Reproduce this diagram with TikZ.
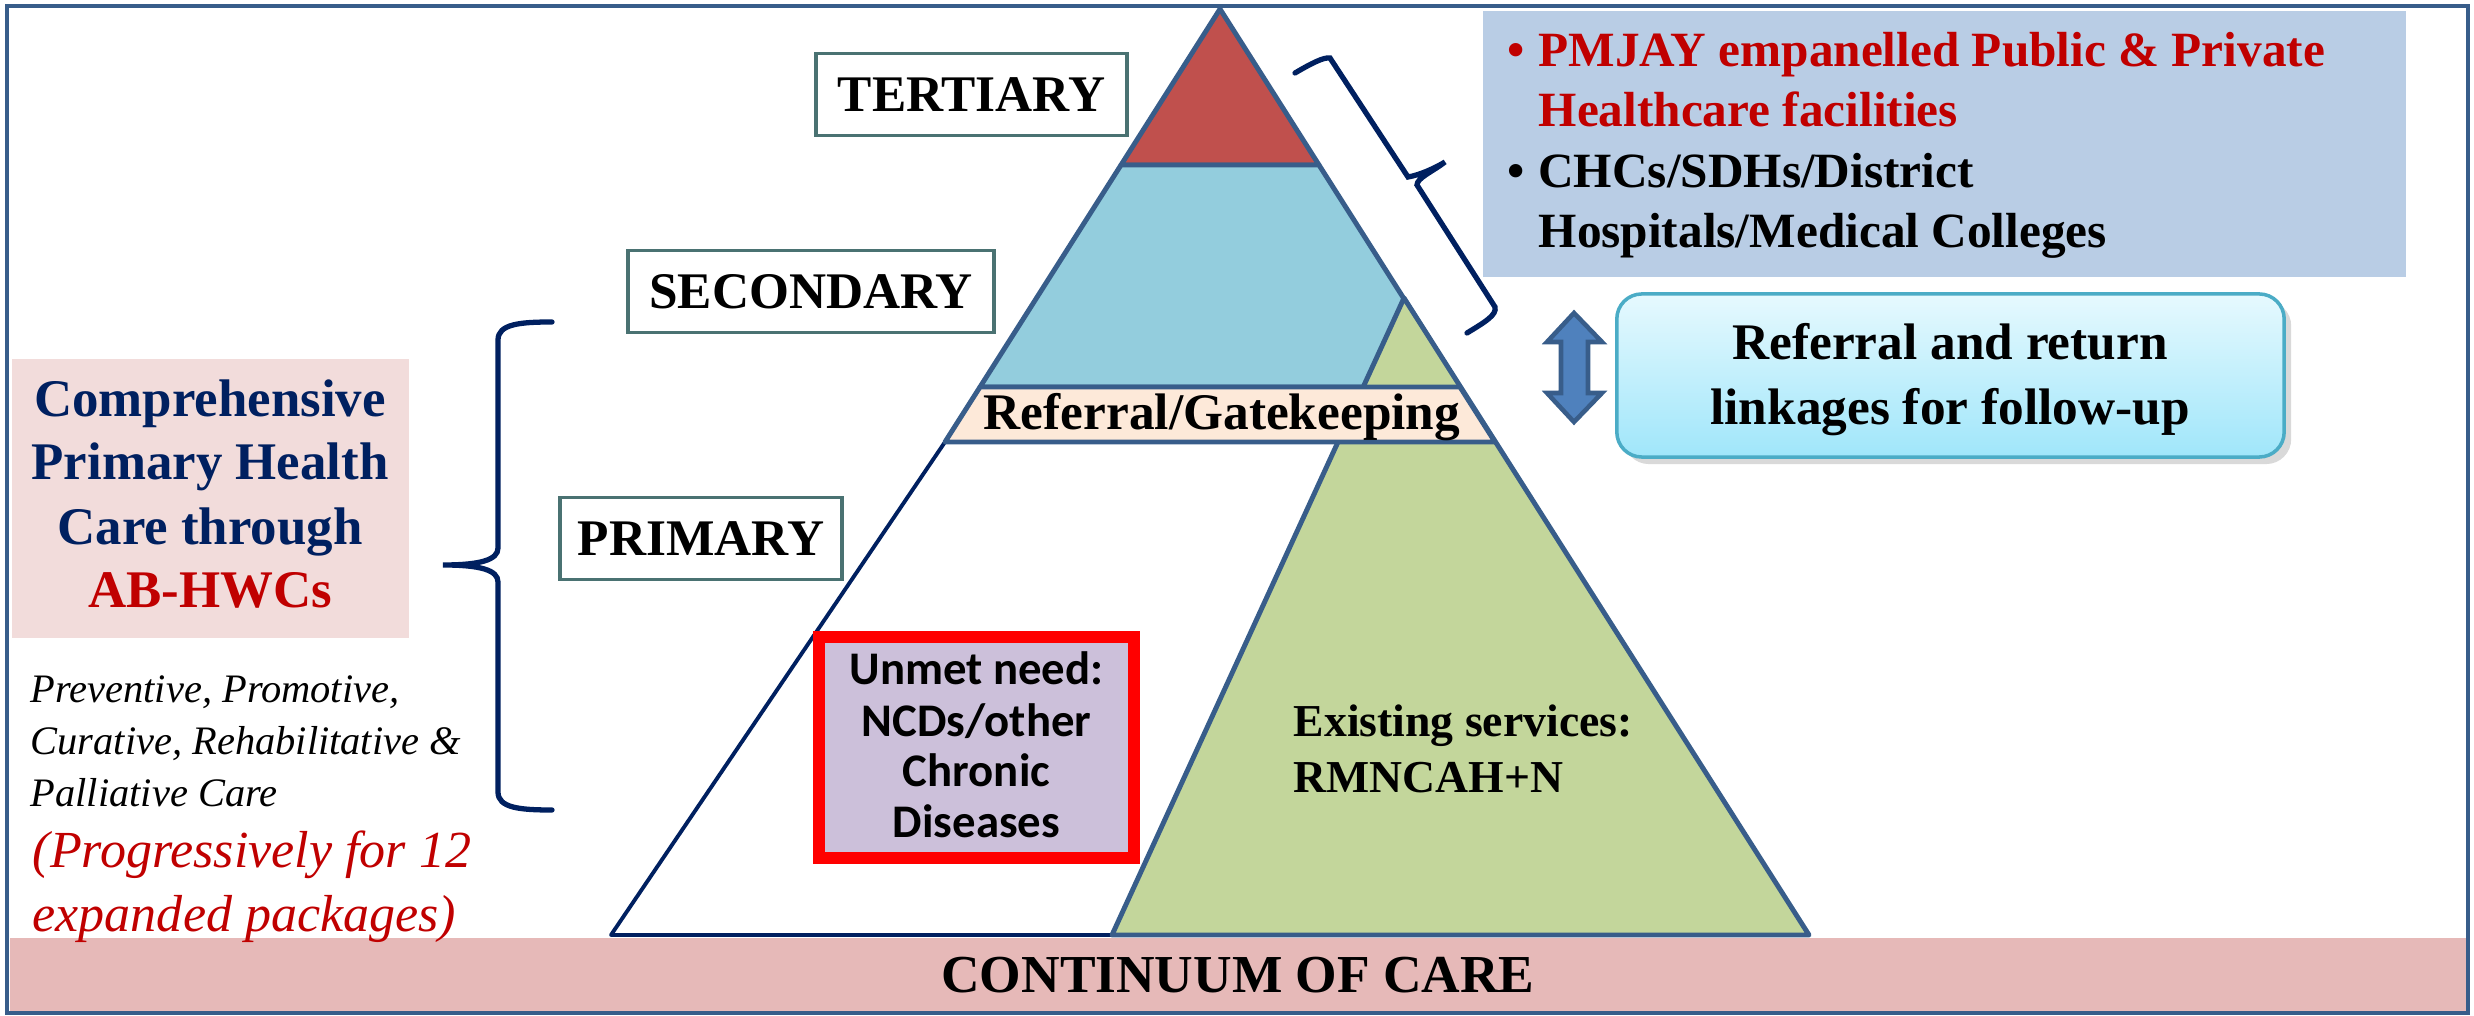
\documentclass[tikz,border=0pt]{standalone}
\usepackage{fontspec}
\usepackage{graphicx}
\setmainfont{Liberation Serif}
\newfontfamily\calibrifont{Carlito}
\usetikzlibrary{shadows}
\definecolor{framecol}{HTML}{385D8A}
\definecolor{navy}{HTML}{002060}
\definecolor{darkred}{HTML}{C00000}
\definecolor{tertred}{HTML}{C0504D}
\definecolor{secblue}{HTML}{93CDDD}
\definecolor{primgreen}{HTML}{C3D69B}
\definecolor{bandpeach}{HTML}{FDE9D9}
\definecolor{pinkbox}{HTML}{F2DCDB}
\definecolor{barpink}{HTML}{E6B9B8}
\definecolor{infoblue}{HTML}{B9CDE5}
\definecolor{lavender}{HTML}{CCC0DA}
\definecolor{labelcol}{HTML}{4A7272}
\definecolor{arrowfill}{HTML}{4F81BD}
\definecolor{refborder}{HTML}{4BACC6}
\definecolor{reftop}{HTML}{E6F9FE}
\definecolor{refbot}{HTML}{A0E6FA}
\begin{document}
\begin{tikzpicture}[x=0.01cm, y=-0.01cm,
    pyr/.style={draw=framecol, line width=1.4pt, line join=round},
    bfnt/.style={font=\bfseries\fontsize{14.6}{17}\selectfont},
    itnt/.style={font=\itshape\fontsize{14.8}{18}\selectfont},
    cfnt/.style={font=\calibrifont\bfseries\fontsize{13.3}{15}\selectfont},
    levelbox/.style={bfnt, draw=labelcol, line width=1pt, fill=white, minimum height=0.82cm, inner sep=0pt},
    brc/.style={draw=navy, line width=1.5pt, line cap=round},
    txt/.style={inner sep=0pt, anchor=base},
    txtl/.style={inner sep=0pt, anchor=base west}]
    \useasboundingbox (0,0) rectangle (2474,1016);
    \fill[barpink] (10,938) rectangle (2466,1013);

    \draw[navy, line width=1.1pt, line join=round] (945,442) -- (611,935) -- (1112,935);
    \filldraw[pyr, fill=tertred] (1220,9) -- (1319,165) -- (1121,165) -- cycle;
    \filldraw[pyr, fill=secblue] (1121,165) -- (1319,165) -- (1460,387) -- (980,387) -- cycle;
    \filldraw[pyr, fill=primgreen] (1404,298) -- (1809,935) -- (1112,935) -- cycle;
    \filldraw[pyr, fill=bandpeach] (980,387) -- (1460,387) -- (1495,442) -- (945,442) -- cycle;

    \node[levelbox, minimum width=3.11cm] (tert) at (971.5,94.5) {TERTIARY};
    \node[levelbox, minimum width=3.66cm] (sec) at (811,291.5) {SECONDARY};
    \node[levelbox, minimum width=2.82cm] (prim) at (701,538.5) {PRIMARY};
    \node[txt, bfnt] (gate) at (1222,430) {Referral/Gatekeeping};
    \node[txt, bfnt] (coc) at (1238,993) {\scalebox{1.04}{CONTINUUM OF CARE}};

    \node[txtl, bfnt] (exist1) at (1293,737) {\scalebox{0.89}{Existing services:}};
    \node[txtl, bfnt] (exist2) at (1293,793) {\scalebox{0.89}{RMNCAH+N}};

    \fill[pinkbox] (12,359) rectangle (409,638);
    \node[txt, bfnt, text=navy] (cphc1) at (210,417) {\scalebox{1.03}{Comprehensive}};
    \node[txt, bfnt, text=navy] (cphc2) at (210,480) {\scalebox{1.03}{Primary Health}};
    \node[txt, bfnt, text=navy] (cphc3) at (210,545) {\scalebox{1.03}{Care through}};
    \node[txt, bfnt, text=darkred] (cphc4) at (210,608) {\scalebox{1.03}{AB-HWCs}};

    \node[txtl, itnt] (scope1) at (30,703) {\scalebox{0.777}{Preventive, Promotive,}};
    \node[txtl, itnt] (scope2) at (30,755) {\scalebox{0.777}{Curative, Rehabilitative \&}};
    \node[txtl, itnt] (scope3) at (30,807) {\scalebox{0.777}{Palliative Care}};
    \node[txtl, itnt, text=darkred] (prog1) at (32,868) {(Progressively for 12};
    \node[txtl, itnt, text=darkred] (prog2) at (32,932) {expanded packages)};

    \draw[brc] (552,322) .. controls (520,322) and (498,324) .. (498,340) -- (498,548)
        .. controls (498,560) and (480,565) .. (443,565) .. controls (480,565) and (498,570) .. (498,582)
        -- (498,792) .. controls (498,808) and (520,810) .. (552,810);

    \fill[infoblue] (1483,11) rectangle (2406,277);
    \node[txtl, bfnt, text=darkred] (pmjay1) at (1507,67) {\scalebox{0.96}{\textbullet\hspace{0.14cm}PMJAY empanelled Public \& Private}};
    \node[txtl, bfnt, text=darkred] (pmjay2) at (1538,127) {\scalebox{0.96}{Healthcare facilities}};
    \node[txtl, bfnt] (chc1) at (1507,188) {\scalebox{0.96}{\textbullet\hspace{0.14cm}CHCs/SDHs/District}};
    \node[txtl, bfnt] (chc2) at (1538,248) {\scalebox{0.96}{Hospitals/Medical Colleges}};

    \draw[brc] (1295,73) .. controls (1312,63) and (1324,57) .. (1330,58) -- (1408,177)
        .. controls (1420,175) and (1435,168) .. (1445,162) .. controls (1432,172) and (1417,178) .. (1417,185)
        -- (1495,307) .. controls (1497,315) and (1485,322) .. (1467,333);

    \draw[draw=framecol, fill=arrowfill, line width=1.3pt, line join=miter] (1574,313) -- (1602,342) -- (1588,342) -- (1588,393) -- (1602,393)
        -- (1574,422) -- (1547,393) -- (1561,393) -- (1561,342) -- (1547,342) -- cycle;
    \node[draw=refborder, line width=1pt, rounded corners=0.25cm, top color=reftop, bottom color=refbot,
        drop shadow={opacity=0.3, shadow xshift=2pt, shadow yshift=-2pt},
        minimum width=6.67cm, minimum height=1.63cm, inner sep=0pt] (refl) at (1950.5,375.5) {};
    \node[txt, bfnt] (refl1) at (1950,360) {Referral and return};
    \node[txt, bfnt] (refl2) at (1950,425) {linkages for follow-up};

    \draw[framecol, line width=1.4pt] (7,6) rectangle (2468,1013);

    \node[draw=red, line width=3.5pt, fill=lavender, minimum width=3.15cm, minimum height=2.21cm, inner sep=0pt] (unmet) at (976.5,747.5) {};
    \node[txt, cfnt] (unmet1) at (976.5,685) {Unmet need:};
    \node[txt, cfnt] (unmet2) at (976.5,737) {NCDs/other};
    \node[txt, cfnt] (unmet3) at (976.5,787) {Chronic};
    \node[txt, cfnt] (unmet4) at (976.5,838) {Diseases};
\end{tikzpicture}
\end{document}
